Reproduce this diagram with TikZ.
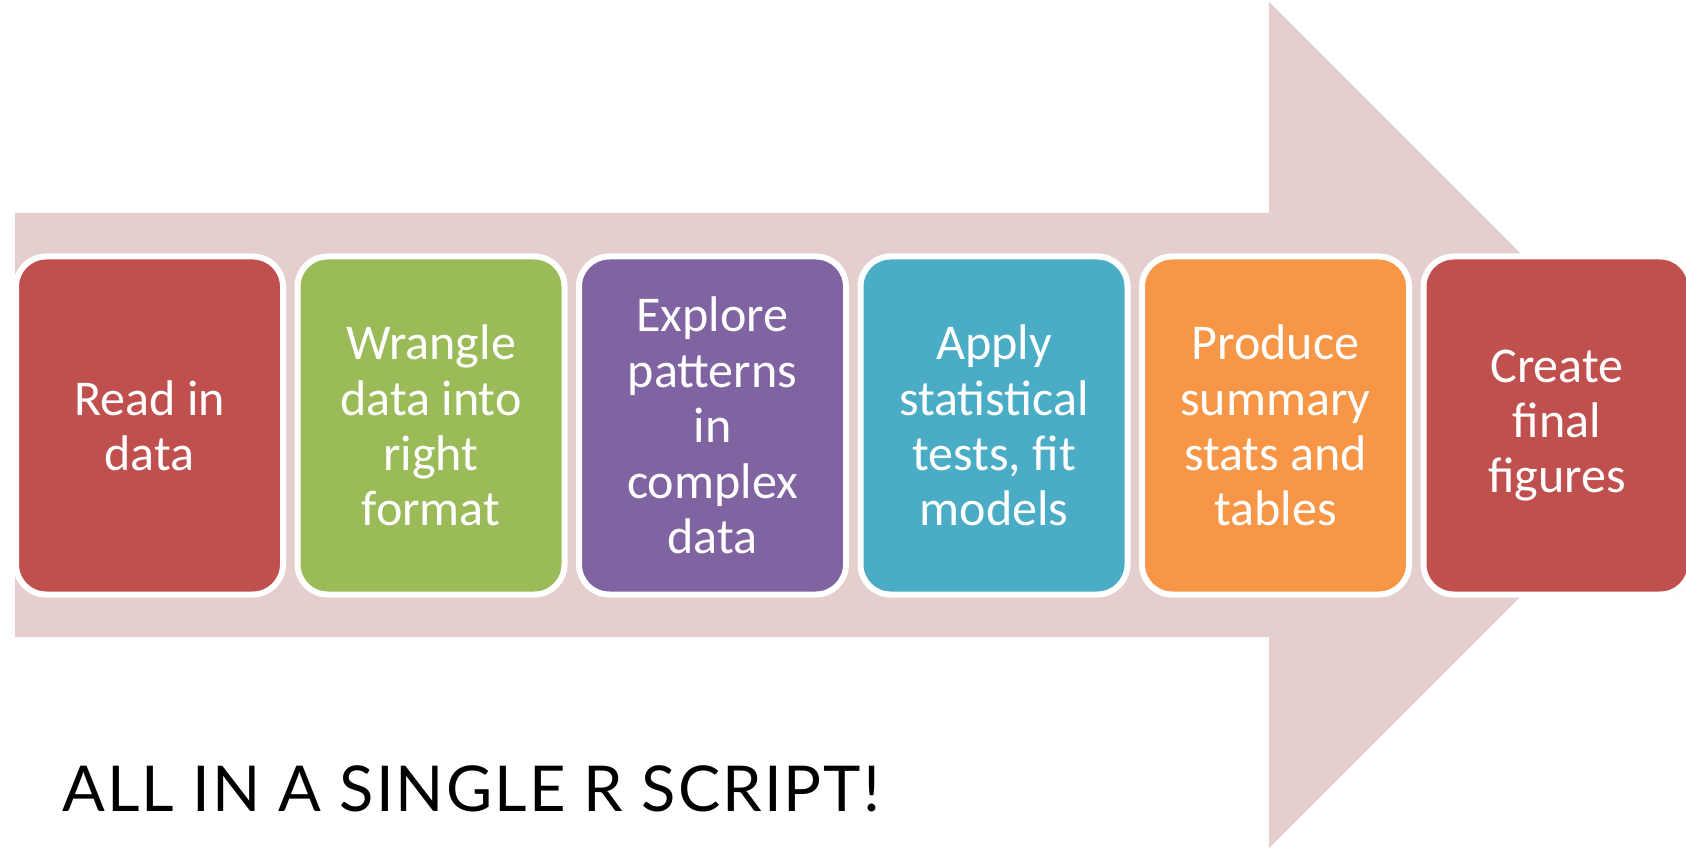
\documentclass[tikz,border=0pt]{standalone}
\usepackage{fontspec}
\setmainfont{Carlito}
\newfontfamily\bannerfont[LetterSpace=3.2]{Lato}
\usetikzlibrary{positioning,shadows}

\definecolor{arrowpink}{RGB}{229,206,206}
\definecolor{stepred}{RGB}{192,80,77}
\definecolor{stepgreen}{RGB}{155,187,89}
\definecolor{steppurple}{RGB}{128,100,162}
\definecolor{stepblue}{RGB}{75,172,198}
\definecolor{steporange}{RGB}{247,150,70}

\begin{document}
\begin{tikzpicture}[
    stagebox/.style={draw=white, line width=0.12cm, rounded corners=0.6cm,
      minimum width=5.34cm, minimum height=6.76cm, inner sep=0pt, outer sep=0pt,
      text=white, align=center, font=\fontsize{28.5}{31.5}\selectfont,
      drop shadow={opacity=0.2, shadow xshift=0.04cm, shadow yshift=-0.05cm}},
    node distance=0.29cm]
        \useasboundingbox (0,0) rectangle (33.72,16.94);
        % big background arrow
        \fill [arrowpink] (0.30,12.68) -- (25.38,12.68) -- (25.38,16.90) -- (33.84,8.44)
              -- (25.38,-0.02) -- (25.38,4.20) -- (0.30,4.20) -- cycle;

        \node [stagebox, fill=stepred]                   (read)    at (2.99,8.43) {Read in\\data};          %step 1
        \node [stagebox, fill=stepgreen, right=of read]     (wrangle) {Wrangle\\data into\\right\\format};     %step 2
        \node [stagebox, fill=steppurple, right=of wrangle] (explore) {Explore\\patterns\\in\\complex\\data}; %step 3
        \node [stagebox, fill=stepblue, right=of explore]   (apply)   {Apply\\statistical\\tests, fit\\models}; %step 4
        \node [stagebox, fill=steporange, right=of apply]   (produce) {Produce\\summary\\stats and\\tables};  %step 5
        \node [stagebox, fill=stepred, right=of produce]    (create)  {Create\\final\\figures};             %step 6

        \node [anchor=base west, inner sep=0pt, font=\bannerfont\fontsize{36}{40}\selectfont]
              (banner) at (1.24,0.72) {ALL IN A SINGLE R SCRIPT!};
\end{tikzpicture}
\end{document}
